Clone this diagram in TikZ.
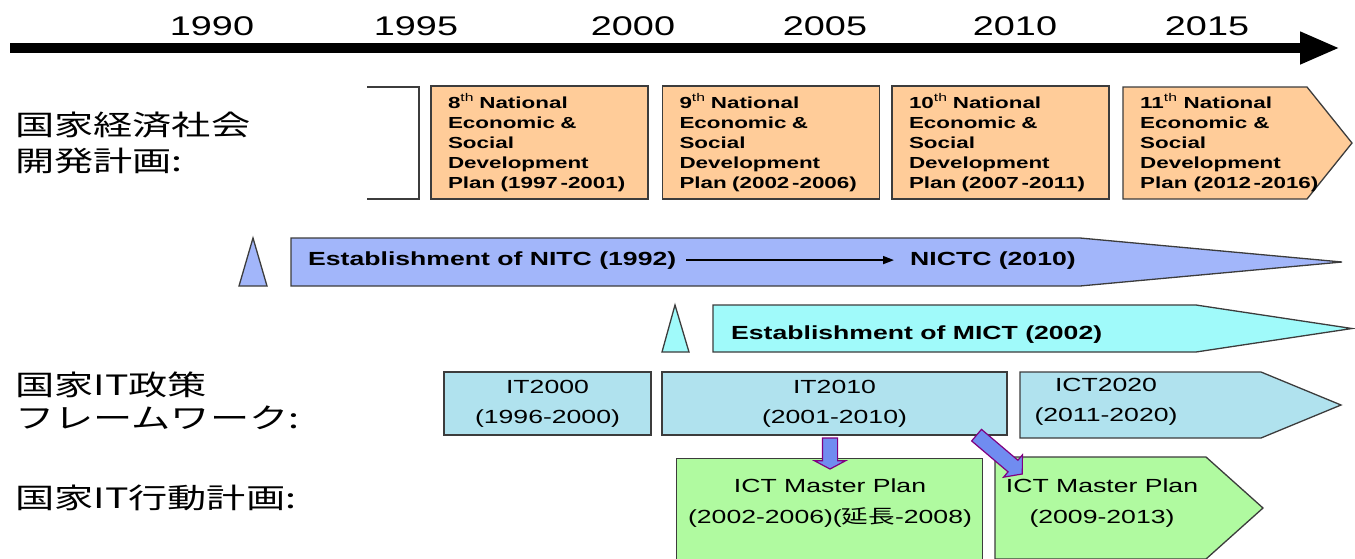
\documentclass[tikz,border=0pt]{standalone}
\usepackage{fontspec}
\setmainfont{Liberation Sans}[FakeStretch=1.4]
\newfontfamily\jpfont{Noto Sans CJK JP}[FakeStretch=1.4]
\usetikzlibrary{arrows.meta,shapes.arrows}

\definecolor{planorange}{RGB}{255,204,153}
\definecolor{nitcblue}{RGB}{162,182,250}
\definecolor{mictcyan}{RGB}{160,250,250}
\definecolor{itblue}{RGB}{176,226,238}
\definecolor{mpgreen}{RGB}{176,250,160}
\definecolor{fatblue}{RGB}{112,140,240}
\definecolor{fatrim}{RGB}{128,0,128}
\definecolor{rim}{RGB}{60,60,60}

\tikzset{
  box/.style={draw=rim, line width=1.3pt},
  planbox/.style={box, fill=planorange, minimum width=217, minimum height=113, text width=183, inner xsep=17, align=left, font=\fontsize{16}{20}\selectfont\bfseries},
  itbox/.style={box, fill=itblue, minimum height=63, align=center, font=\fontsize{19}{30}\selectfont},
  yeartext/.style={anchor=base, inner sep=0pt, font=\fontsize{27}{30}\selectfont},
  rowtext/.style={anchor=base west, inner sep=0pt, font=\jpfont\fontsize{28}{30}\selectfont},
  bandtext/.style={anchor=base west, inner sep=0pt, font=\fontsize{19}{22}\selectfont\bfseries},
  plantext/.style={anchor=base west, inner sep=0pt, align=left, font=\fontsize{16}{20}\selectfont\bfseries},
  mptext/.style={anchor=base, inner sep=0pt, align=center, font=\fontsize{19}{31}\selectfont},
  fatarrow/.style={single arrow, draw=fatrim, fill=fatblue, line width=1.2pt, inner sep=0pt, text height=7pt, text depth=7pt, single arrow head extend=8pt},
}

\begin{document}
\begin{tikzpicture}[x=1pt,y=1pt,yscale=-1,xscale=1]
    \useasboundingbox (0,0) rectangle (1355,558);

    %Timeline
    \coordinate (tstart) at (10,48);
    \coordinate (tend) at (1340,48);
    \draw [line width=10pt, -{Triangle[length=40pt,width=30pt]}] (tstart) -- (tend);
    % Text Node
    \node [yeartext] (y1990) at (212,35) {1990};
    \node [yeartext] (y1995) at (416,35) {1995};
    \node [yeartext] (y2000) at (633,35) {2000};
    \node [yeartext] (y2005) at (825,35) {2005};
    \node [yeartext] (y2010) at (1015,35) {2010};
    \node [yeartext] (y2015) at (1207,35) {2015};

    % Text Node
    \node [rowtext] (row1a) at (15,135) {国家経済社会};
    \node [rowtext] (row1b) at (15,171) {開発計画:};
    \node [rowtext] (row2a) at (15,395) {国家IT政策};
    \node [rowtext] (row2b) at (15,428) {フレームワーク:};
    \node [rowtext] (row3a) at (15,508) {国家IT行動計画:};

    %Shape: Bracket
    \draw [box] (367,87) -- (419,87) -- (419,199) -- (367,199);
    %Shape: Rectangle
    \node [planbox] (plan8) at (539.5,142.5) {8\textsuperscript{\mdseries th} National\\Economic \&\\Social\\Development\\Plan (1997\,-2001)};
    %Shape: Rectangle
    \node [planbox] (plan9) at (771,142.5) {9\textsuperscript{\mdseries th} National\\Economic \&\\Social\\Development\\Plan (2002\,-2006)};
    %Shape: Rectangle
    \node [planbox] (plan10) at (1000.5,142.5) {10\textsuperscript{\mdseries th} National\\Economic \&\\Social\\Development\\Plan (2007\,-2011)};
    %Shape: Pentagon
    \draw [box, fill=planorange] (1123,87) -- (1307,87) -- (1352,143) -- (1307,199) -- (1123,199) -- cycle;
    % Text Node
    \node [plantext] (plan11) at (1140,188) {11\textsuperscript{\mdseries th} National\\Economic \&\\Social\\Development\\Plan (2012\,-2016)};

    %Shape: Triangle
    \draw [box, fill=nitcblue] (239,286) -- (253,238) -- (267,286) -- cycle;
    %Shape: Pentagon
    \draw [box, fill=nitcblue] (291,238) -- (1080,238) -- (1342,262) -- (1080,286) -- (291,286) -- cycle;
    % Text Node
    \node [bandtext] (nitc) at (308,265) {Establishment of NITC (1992)};
    \node [bandtext] (nictc) at (910,265) {NICTC (2010)};
    \draw [line width=1.6pt, -{Triangle[length=11pt,width=8pt]}, shorten <=10pt, shorten >=16pt] (nitc) -- (nictc);

    %Shape: Triangle
    \draw [box, fill=mictcyan] (662,352) -- (675,305) -- (689,352) -- cycle;
    %Shape: Pentagon
    \draw [box, fill=mictcyan] (713,305) -- (1196,305) -- (1352,328.5) -- (1196,352) -- (713,352) -- cycle;
    % Text Node
    \node [bandtext] (mict) at (731,339) {Establishment of MICT (2002)};

    %Shape: Rectangle
    \node [itbox, minimum width=207] (it2000) at (547.5,403.5) {IT2000\\(1996-2000)};
    %Shape: Rectangle
    \node [itbox, minimum width=345] (it2010) at (834.5,403.5) {IT2010\\(2001-2010)};
    %Shape: Pentagon
    \draw [box, fill=itblue] (1020,372) -- (1261,372) -- (1341,405) -- (1261,438) -- (1020,438) -- cycle;
    % Text Node
    \node [mptext, font=\fontsize{19}{30}\selectfont] (ict2020) at (1106,421) {ICT2020\\(2011-2020)};

    %Shape: Rectangle
    \node [box, fill=mpgreen, minimum width=306, minimum height=106, anchor=north west] (mp1) at (676,458) {};
    %Shape: Pentagon
    \draw [box, fill=mpgreen] (995,457) -- (1206,457) -- (1263,508) -- (1206,559) -- (995,559) -- cycle;
    % Text Node
    \node [mptext] (mp1txt) at (830,523) {ICT Master Plan\\(2002-2006)({\jpfont 延長}-2008)};
    \node [mptext] (mp2txt) at (1102,523) {ICT Master Plan\\(2009-2013)};

    %Block Arrows
    \node [fatarrow, rotate=-90, minimum height=31, single arrow tip angle=124] (downarrow) at (830,451.5) {};
    \node [fatarrow, rotate=-40.3, minimum height=60, single arrow tip angle=100, single arrow head extend=7pt] (slantarrow) at (997,452.5) {};
\end{tikzpicture}
\end{document}
